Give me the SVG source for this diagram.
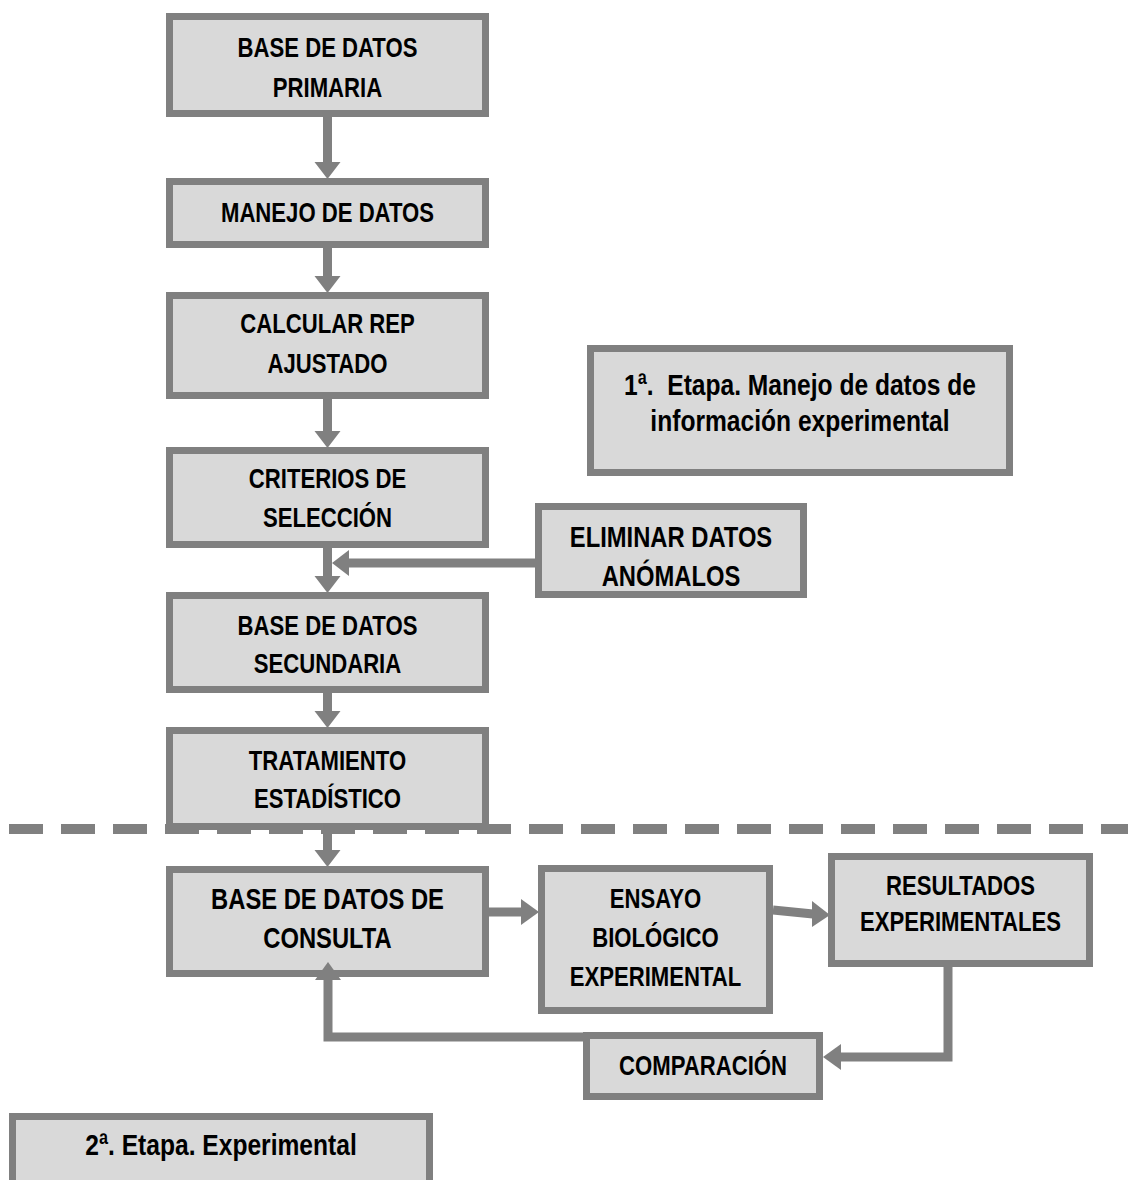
<svg xmlns="http://www.w3.org/2000/svg" width="1128" height="1180" viewBox="0 0 1128 1180">
<style>
.box{fill:#d9d9d9;stroke:#808080;stroke-width:7}
.t{font-family:"Liberation Sans",Arial,sans-serif;font-weight:bold;font-size:27px;fill:#000;text-anchor:middle}
.big{font-size:29px}
.et{font-size:30px}
.ln{fill:none;stroke:#808080;stroke-width:9}
.ah{fill:#808080}
</style>
<rect width="1128" height="1180" fill="#fff"/>

<g id="n1">
<rect class="box" x="169.5" y="16.5" width="316" height="97"/>
<text class="t" transform="translate(327.5 0) scale(0.82 1)" x="0" y="57">BASE DE DATOS</text>
<text class="t" transform="translate(327.5 0) scale(0.82 1)" x="0" y="97">PRIMARIA</text>
</g>
<g id="n2">
<rect class="box" x="169.5" y="181.5" width="316" height="63"/>
<text class="t" transform="translate(327.5 0) scale(0.82 1)" x="0" y="222">MANEJO DE DATOS</text>
</g>
<g id="n3">
<rect class="box" x="169.5" y="295.5" width="316" height="100"/>
<text class="t" transform="translate(327.5 0) scale(0.82 1)" x="0" y="333">CALCULAR REP</text>
<text class="t" transform="translate(327.5 0) scale(0.82 1)" x="0" y="373">AJUSTADO</text>
</g>
<g id="n4">
<rect class="box" x="169.5" y="450.5" width="316" height="94"/>
<text class="t" transform="translate(327.5 0) scale(0.82 1)" x="0" y="488">CRITERIOS DE</text>
<text class="t" transform="translate(327.5 0) scale(0.82 1)" x="0" y="527">SELECCIÓN</text>
</g>
<g id="n5">
<rect class="box" x="538.5" y="506.5" width="265" height="88"/>
<text class="t big" transform="translate(671 0) scale(0.82 1)" x="0" y="547">ELIMINAR DATOS</text>
<text class="t big" transform="translate(671 0) scale(0.82 1)" x="0" y="586">ANÓMALOS</text>
</g>
<g id="n6">
<rect class="box" x="169.5" y="595.5" width="316" height="94"/>
<text class="t" transform="translate(327.5 0) scale(0.82 1)" x="0" y="635">BASE DE DATOS</text>
<text class="t" transform="translate(327.5 0) scale(0.82 1)" x="0" y="673">SECUNDARIA</text>
</g>
<g id="n7">
<rect class="box" x="169.5" y="730.5" width="316" height="96"/>
<text class="t" transform="translate(327.5 0) scale(0.82 1)" x="0" y="770">TRATAMIENTO</text>
<text class="t" transform="translate(327.5 0) scale(0.82 1)" x="0" y="808">ESTADÍSTICO</text>
</g>
<g id="n8">
<rect class="box" x="590.5" y="348.5" width="419" height="124"/>
<text class="t et" transform="translate(800 0) scale(0.82 1)" x="0" y="395" xml:space="preserve">1ª.  Etapa. Manejo de datos de</text>
<text class="t et" transform="translate(800 0) scale(0.82 1)" x="0" y="431">información experimental</text>
</g>

<g id="divider">
<line x1="9" y1="829" x2="1128" y2="829" stroke="#808080" stroke-width="10" stroke-dasharray="34 18"/>
</g>

<g id="n9">
<rect class="box" x="169.5" y="869.5" width="316" height="104"/>
<text class="t big" transform="translate(327.5 0) scale(0.82 1)" x="0" y="909">BASE DE DATOS DE</text>
<text class="t big" transform="translate(327.5 0) scale(0.82 1)" x="0" y="948">CONSULTA</text>
</g>
<g id="n10">
<rect class="box" x="541.5" y="868.5" width="228" height="142"/>
<text class="t" transform="translate(655.5 0) scale(0.82 1)" x="0" y="908">ENSAYO</text>
<text class="t" transform="translate(655.5 0) scale(0.82 1)" x="0" y="947">BIOLÓGICO</text>
<text class="t" transform="translate(655.5 0) scale(0.82 1)" x="0" y="986">EXPERIMENTAL</text>
</g>
<g id="n11">
<rect class="box" x="831.5" y="856.5" width="258" height="107"/>
<text class="t" transform="translate(960.5 0) scale(0.82 1)" x="0" y="895">RESULTADOS</text>
<text class="t" transform="translate(960.5 0) scale(0.82 1)" x="0" y="931">EXPERIMENTALES</text>
</g>
<g id="n12">
<rect class="box" x="586.5" y="1035.5" width="233" height="61"/>
<text class="t" transform="translate(703 0) scale(0.82 1)" x="0" y="1075">COMPARACIÓN</text>
</g>
<g id="n13">
<rect class="box" x="12.5" y="1116.5" width="417" height="80"/>
<text class="t et" transform="translate(221 0) scale(0.82 1)" x="0" y="1155">2ª. Etapa. Experimental</text>
</g>

<g id="connectors">
<line class="ln" x1="327.5" y1="117" x2="327.5" y2="163"/>
<polygon class="ah" points="314.5,162 340.5,162 327.5,179"/>
<line class="ln" x1="327.5" y1="248" x2="327.5" y2="277"/>
<polygon class="ah" points="314.5,276 340.5,276 327.5,293"/>
<line class="ln" x1="327.5" y1="399" x2="327.5" y2="432"/>
<polygon class="ah" points="314.5,431 340.5,431 327.5,448"/>
<line class="ln" x1="327.5" y1="548" x2="327.5" y2="577"/>
<polygon class="ah" points="314.5,576 340.5,576 327.5,593"/>
<line class="ln" x1="535" y1="563" x2="345" y2="563"/>
<polygon class="ah" points="349,550 349,576 332,563"/>
<line class="ln" x1="327.5" y1="693" x2="327.5" y2="712"/>
<polygon class="ah" points="314.5,711 340.5,711 327.5,728"/>
<line class="ln" x1="327.5" y1="834" x2="327.5" y2="851"/>
<polygon class="ah" points="314.5,850 340.5,850 327.5,867"/>
<line class="ln" x1="489" y1="912" x2="522" y2="912"/>
<polygon class="ah" points="521,899 521,925 539,912"/>
<line class="ln" x1="773" y1="910" x2="813" y2="914"/>
<polygon class="ah" points="812,901 812,927 830,915"/>
<polyline class="ln" points="948,967 948,1057 838,1057"/>
<polygon class="ah" points="841,1044 841,1070 823,1057"/>
<polyline class="ln" points="587,1037 328,1037 328,978"/>
<polygon class="ah" points="315,980 341,980 328,962"/>
</g>
</svg>
